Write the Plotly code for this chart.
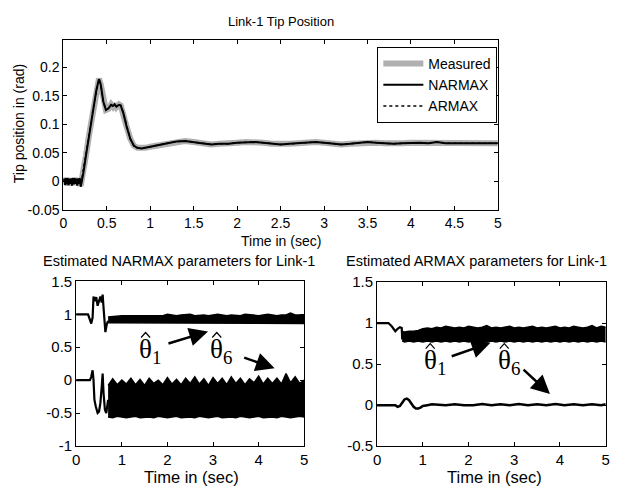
import plotly.graph_objects as go

# ---------------- Top plot data: Link-1 tip position ----------------
t_top = [0.00, 0.01, 0.02, 0.03, 0.04, 0.05, 0.06, 0.07, 0.08, 0.09, 0.10, 0.11, 0.12,
         0.13, 0.14, 0.15, 0.16, 0.17, 0.18, 0.19, 0.20, 0.21, 0.23, 0.26, 0.30, 0.34,
         0.38, 0.41, 0.43, 0.46, 0.49, 0.52, 0.55, 0.57, 0.59, 0.61, 0.64, 0.66, 0.69,
         0.73, 0.77, 0.81, 0.85, 0.90, 0.95, 1.00, 1.10, 1.20, 1.30, 1.40, 1.50, 1.60,
         1.70, 1.80, 1.90, 2.00, 2.10, 2.20, 2.30, 2.40, 2.50, 2.60, 2.70, 2.80, 2.90,
         3.00, 3.10, 3.20, 3.30, 3.40, 3.50, 3.60, 3.70, 3.80, 3.90, 4.00, 4.10, 4.20,
         4.30, 4.40, 4.50, 4.60, 4.70, 4.80, 4.90, 5.00]
measured = [0.000, 0.006, -0.005, 0.007, -0.004, 0.005, -0.007, 0.004, -0.003, 0.006, -0.006,
            0.005, -0.004, 0.007, -0.005, 0.004, -0.006, 0.006, -0.003, 0.005, -0.008, 0.002,
            0.015, 0.045, 0.085, 0.125, 0.160, 0.180, 0.170, 0.140, 0.125, 0.127, 0.135,
            0.131, 0.136, 0.130, 0.135, 0.133, 0.120, 0.095, 0.075, 0.063, 0.059, 0.058,
            0.059, 0.061, 0.064, 0.067, 0.070, 0.071, 0.069, 0.066, 0.065, 0.066, 0.066,
            0.068, 0.069, 0.069, 0.068, 0.066, 0.065, 0.066, 0.067, 0.069, 0.069, 0.068,
            0.066, 0.065, 0.066, 0.067, 0.069, 0.068, 0.067, 0.066, 0.067, 0.068, 0.068,
            0.067, 0.069, 0.067, 0.067, 0.068, 0.067, 0.068, 0.067, 0.067]
narmax = [0.000, 0.005, -0.006, 0.006, -0.005, 0.006, -0.006, 0.005, -0.004, 0.005, -0.007,
          0.006, -0.005, 0.006, -0.004, 0.005, -0.007, 0.005, -0.004, 0.006, -0.009, 0.002,
          0.015, 0.045, 0.085, 0.125, 0.160, 0.179, 0.170, 0.140, 0.125, 0.128, 0.134,
          0.132, 0.135, 0.131, 0.134, 0.133, 0.120, 0.095, 0.075, 0.063, 0.059, 0.058,
          0.059, 0.061, 0.064, 0.067, 0.070, 0.071, 0.069, 0.066, 0.065, 0.066, 0.066,
          0.068, 0.069, 0.069, 0.068, 0.066, 0.065, 0.066, 0.067, 0.069, 0.069, 0.068,
          0.066, 0.065, 0.066, 0.067, 0.069, 0.068, 0.067, 0.066, 0.067, 0.068, 0.068,
          0.067, 0.069, 0.067, 0.067, 0.068, 0.067, 0.068, 0.067, 0.067]
armax = [0.000, 0.004, -0.005, 0.005, -0.004, 0.005, -0.005, 0.004, -0.004, 0.005, -0.006,
         0.005, -0.004, 0.005, -0.004, 0.004, -0.006, 0.005, -0.003, 0.005, -0.007, 0.002,
         0.015, 0.045, 0.085, 0.125, 0.160, 0.179, 0.170, 0.140, 0.125, 0.128, 0.134,
         0.132, 0.135, 0.131, 0.134, 0.133, 0.120, 0.095, 0.075, 0.063, 0.059, 0.058,
         0.059, 0.061, 0.064, 0.067, 0.070, 0.071, 0.069, 0.066, 0.065, 0.066, 0.066,
         0.068, 0.069, 0.069, 0.068, 0.066, 0.065, 0.066, 0.067, 0.069, 0.069, 0.068,
         0.066, 0.065, 0.066, 0.067, 0.069, 0.068, 0.067, 0.066, 0.067, 0.068, 0.068,
         0.067, 0.069, 0.067, 0.067, 0.068, 0.067, 0.068, 0.067, 0.067]

# ---------------- Bottom-left: NARMAX parameters ----------------
t_band = [0.7, 0.8, 0.9, 1.0, 1.1, 1.2, 1.3, 1.4, 1.5, 1.6, 1.7, 1.8, 1.9, 2.0, 2.1, 2.2,
          2.3, 2.4, 2.5, 2.6, 2.7, 2.8, 2.9, 3.0, 3.1, 3.2, 3.3, 3.4, 3.5, 3.6, 3.7, 3.8,
          3.9, 4.0, 4.1, 4.2, 4.3, 4.4, 4.5, 4.6, 4.7, 4.8, 4.9, 5.0]
n_th1_t = [0.0, 0.26, 0.30, 0.33, 0.36, 0.38, 0.41, 0.44, 0.47, 0.50, 0.53, 0.56, 0.58,
           0.60, 0.62, 0.64, 0.67, 0.70]
n_th1_v = [1.0, 1.0, 0.92, 0.86, 0.95, 1.27, 1.20, 1.26, 1.13, 1.20, 1.27, 1.18, 1.30,
           1.10, 0.80, 0.73, 0.85, 0.90]
n_th1_up = [0.96, 0.97, 0.97, 0.98, 0.98, 0.98, 0.99, 0.98, 0.99, 0.98, 0.99, 0.99, 0.98,
            1.00, 0.99, 0.98, 0.99, 0.99, 1.00, 0.98, 0.99, 0.99, 0.98, 0.99, 1.00, 0.99,
            0.98, 0.99, 0.99, 0.98, 1.00, 0.99, 0.99, 0.98, 0.99, 1.00, 0.99, 0.98, 0.99,
            0.99, 1.02, 0.99, 0.99, 0.99]
n_th1_lo = [0.87, 0.87, 0.86, 0.87, 0.86, 0.86, 0.87, 0.86, 0.87, 0.86, 0.86, 0.87, 0.86,
            0.86, 0.87, 0.86, 0.86, 0.87, 0.86, 0.86, 0.87, 0.86, 0.86, 0.87, 0.86, 0.86,
            0.87, 0.86, 0.86, 0.87, 0.86, 0.86, 0.87, 0.86, 0.86, 0.87, 0.86, 0.86, 0.87,
            0.86, 0.86, 0.87, 0.86, 0.86]
n_th6_t = [0.0, 0.30, 0.33, 0.36, 0.38, 0.40, 0.43, 0.47, 0.50, 0.53, 0.56, 0.58, 0.60,
           0.63, 0.66, 0.70]
n_th6_v = [0.0, 0.0, 0.05, 0.15, 0.0, -0.30, -0.40, -0.50, -0.48, -0.35, -0.10, 0.10,
           -0.20, -0.45, -0.50, -0.30]
n_th6_up = [-0.08, 0.02, -0.07, 0.00, -0.06, 0.03, -0.07, 0.01, -0.08, 0.03, -0.05, 0.00,
            -0.07, 0.04, -0.06, 0.01, -0.07, 0.03, -0.05, 0.05, -0.06, 0.02, -0.08, 0.04,
            -0.05, 0.03, -0.07, 0.05, -0.05, 0.03, -0.07, 0.02, -0.04, 0.06, -0.06, 0.03,
            -0.05, 0.03, -0.06, 0.10, -0.04, 0.05, -0.05, 0.00]
n_th6_lo = [-0.56, -0.57, -0.55, -0.56, -0.57, -0.56, -0.55, -0.57, -0.56, -0.56, -0.57,
            -0.55, -0.56, -0.57, -0.56, -0.55, -0.57, -0.56, -0.56, -0.57, -0.55, -0.56,
            -0.57, -0.56, -0.55, -0.57, -0.56, -0.56, -0.57, -0.55, -0.56, -0.57, -0.56,
            -0.55, -0.57, -0.56, -0.56, -0.57, -0.55, -0.56, -0.57, -0.56, -0.55, -0.56]

# ---------------- Bottom-right: ARMAX parameters ----------------
t_band_a = [0.55, 0.6, 0.7, 0.8, 0.9, 1.0, 1.1, 1.2, 1.3, 1.4, 1.5, 1.6, 1.7, 1.8, 1.9,
            2.0, 2.1, 2.2, 2.3, 2.4, 2.5, 2.6, 2.7, 2.8, 2.9, 3.0, 3.1, 3.2, 3.3, 3.4,
            3.5, 3.6, 3.7, 3.8, 3.9, 4.0, 4.1, 4.2, 4.3, 4.4, 4.5, 4.6, 4.7, 4.8, 4.9, 5.0]
a_th1_t = [0.0, 0.25, 0.32, 0.40, 0.45, 0.50, 0.54, 0.55]
a_th1_v = [1.0, 1.0, 0.96, 0.90, 0.93, 0.95, 0.94, 0.80]
a_th1_up = [0.90, 0.89, 0.90, 0.90, 0.91, 0.93, 0.94, 0.93, 0.95, 0.94, 0.96, 0.95, 0.94,
            0.95, 0.94, 0.96, 0.95, 0.94, 0.95, 0.97, 0.94, 0.95, 0.94, 0.95, 0.96, 0.94,
            0.95, 0.94, 0.95, 0.96, 0.94, 0.95, 0.94, 0.95, 0.96, 0.94, 0.95, 0.94, 0.96,
            0.95, 0.94, 0.95, 0.97, 0.94, 0.96, 0.95]
a_th1_lo = [0.78, 0.77, 0.78, 0.77, 0.78, 0.77, 0.78, 0.77, 0.78, 0.77, 0.78, 0.77, 0.78,
            0.77, 0.78, 0.77, 0.78, 0.77, 0.78, 0.77, 0.78, 0.77, 0.78, 0.77, 0.78, 0.77,
            0.78, 0.77, 0.78, 0.77, 0.78, 0.77, 0.78, 0.77, 0.78, 0.77, 0.78, 0.77, 0.78,
            0.77, 0.78, 0.77, 0.78, 0.77, 0.78, 0.77]
a_th6_t = [0.0, 0.40, 0.45, 0.50, 0.55, 0.60, 0.65, 0.70, 0.75, 0.80, 0.85, 0.90, 0.95,
           1.0, 1.1, 1.2, 1.5, 1.7, 1.9, 2.1, 2.3, 2.5, 2.7, 2.9, 3.1, 3.3, 3.5, 3.7,
           3.9, 4.1, 4.3, 4.5, 4.7, 4.9, 5.0]
a_th6_v = [0.0, 0.0, -0.02, -0.01, 0.03, 0.07, 0.08, 0.06, 0.02, -0.02, -0.04, -0.04,
           -0.03, -0.01, 0.0, 0.01, 0.0, 0.01, 0.0, 0.0, 0.015, 0.0, 0.01, 0.0, 0.015, 0.0,
           0.01, 0.0, 0.015, 0.0, 0.01, 0.0, 0.01, 0.0, 0.01]

top_yticks = [-0.05, 0, 0.05, 0.1, 0.15, 0.2]
top_ylabels = ["-0.05", "0", "0.05", "0.1", "0.15", "0.2"]
top_xticks = [0, 0.5, 1, 1.5, 2, 2.5, 3, 3.5, 4, 4.5, 5]
bot_xticks = [0, 1, 2, 3, 4, 5]
bl_yticks = [-1, -0.5, 0, 0.5, 1, 1.5]
br_yticks = [-0.5, 0, 0.5, 1, 1.5]

W, H = 636, 501
OFF = 8  # default page margin of the HTML body
FONT = "Liberation Sans, Arial, sans-serif"
fig = go.Figure()

# Top plot
fig.add_trace(go.Scatter(x=t_top, y=measured, name="Measured", mode="lines",
                         line=dict(color="#b0b0b0", width=6), xaxis="x", yaxis="y"))
fig.add_trace(go.Scatter(x=t_top, y=narmax, name="NARMAX", mode="lines",
                         line=dict(color="black", width=2), xaxis="x", yaxis="y"))
fig.add_trace(go.Scatter(x=t_top, y=armax, name="ARMAX", mode="lines",
                         line=dict(color="black", width=1.5, dash="dot"), xaxis="x", yaxis="y"))


def band(tb, lo, up, ax, ay):
    fig.add_trace(go.Scatter(x=tb, y=lo, mode="lines", line=dict(color="black", width=1.5),
                             showlegend=False, xaxis=ax, yaxis=ay))
    fig.add_trace(go.Scatter(x=tb, y=up, mode="lines", line=dict(color="black", width=1.5),
                             fill="tonexty", fillcolor="black",
                             showlegend=False, xaxis=ax, yaxis=ay))


def line(tt, vv, ax, ay, w=2.2):
    fig.add_trace(go.Scatter(x=tt, y=vv, mode="lines", line=dict(color="black", width=w),
                             showlegend=False, xaxis=ax, yaxis=ay))


line(n_th1_t, n_th1_v, "x2", "y2")
band(t_band, n_th1_lo, n_th1_up, "x2", "y2")
line(n_th6_t, n_th6_v, "x2", "y2")
band(t_band, n_th6_lo, n_th6_up, "x2", "y2")

line(a_th1_t, a_th1_v, "x3", "y3")
band(t_band_a, a_th1_lo, a_th1_up, "x3", "y3")
line(a_th6_t, a_th6_v, "x3", "y3", w=2.5)


def px(x):
    return (x - OFF) / W


def py(y):
    return 1 - (y - OFF) / H


axis_common = dict(showline=True, linecolor="black", linewidth=1, mirror="ticks",
                   ticks="inside", ticklen=4, tickcolor="black", showgrid=False,
                   zeroline=False, tickfont=dict(family=FONT, size=14, color="black"))
bfont = dict(family=FONT, size=15, color="black")

fig.update_layout(
    width=W, height=H, margin=dict(l=0, r=0, t=0, b=0),
    paper_bgcolor="white", plot_bgcolor="white",
    font=dict(family=FONT, color="black"),
    xaxis=dict(axis_common, domain=[px(60), px(500)], range=[0, 5], tickvals=top_xticks,
               ticktext=["0", "0.5", "1", "1.5", "2", "2.5", "3", "3.5", "4", "4.5", "5"],
               anchor="y"),
    yaxis=dict(axis_common, domain=[py(208), py(32)], range=[-0.05, 0.247],
               tickvals=top_yticks, ticktext=top_ylabels, anchor="x"),
    xaxis2=dict(axis_common, domain=[px(73), px(304)], range=[0, 5], tickvals=bot_xticks,
                anchor="y2", tickfont=bfont),
    yaxis2=dict(axis_common, domain=[py(452), py(281.7)], range=[-1, 1.5],
                tickvals=bl_yticks, ticktext=["-1", "-0.5", "0", "0.5", "1", "1.5"],
                anchor="x2", tickfont=bfont),
    xaxis3=dict(axis_common, domain=[px(377.7), px(609.3)], range=[0, 5], tickvals=bot_xticks,
                anchor="y3", tickfont=bfont),
    yaxis3=dict(axis_common, domain=[py(452.3), py(282.3)], range=[-0.5, 1.5],
                tickvals=br_yticks, ticktext=["-0.5", "0", "0.5", "1", "1.5"],
                anchor="x3", tickfont=bfont),
    legend=dict(x=px(378), y=py(39), xanchor="left", yanchor="top",
                bordercolor="black", borderwidth=1, bgcolor="white",
                font=dict(family=FONT, size=14, color="black"),
                traceorder="normal", tracegroupgap=0, itemwidth=40),
    showlegend=True,
)


def txt(x, y, s, size, angle=0):
    fig.add_annotation(x=px(x), y=py(y), xref="paper", yref="paper", text=s, showarrow=False,
                       xanchor="center", yanchor="middle", textangle=angle,
                       font=dict(family=FONT, size=size, color="black"))


txt(280, 13, "Link-1 Tip Position", 13)
txt(280, 240, "Time in (sec)", 14)
txt(15, 118, "Tip position in (rad)", 14, angle=-90)
txt(177, 261, "Estimated NARMAX parameters for Link-1", 14.5)
txt(478, 261, "Estimated ARMAX parameters for Link-1", 14.5)
txt(190, 484, "Time in (sec)", 16.5)
txt(497, 484, "Time in (sec)", 16.5)

SERIF = "Liberation Serif, Times New Roman, serif"


def theta(x, y, sub, ax, ay):
    fig.add_annotation(x=x, y=y, xref=ax, yref=ay, showarrow=False,
                       text="θ<sub>%s</sub>" % sub, xanchor="center", yanchor="middle",
                       font=dict(family=SERIF, size=27, color="black"))
    # circumflex (hat) over the theta, sized in pixels around the label anchor
    fig.add_shape(type="path", xref=ax, yref=ay, xsizemode="pixel", ysizemode="pixel",
                  xanchor=x, yanchor=y, path="M -9 13 L -4.5 18 L 0 13",
                  line=dict(color="black", width=1.2))


def arrow(x0, y0, x1, y1, ax, ay):
    fig.add_annotation(x=x1, y=y1, ax=x0, ay=y0, xref=ax, yref=ay, axref=ax, ayref=ay,
                       text="", showarrow=True, arrowhead=2, arrowsize=1.5, arrowwidth=2.5,
                       arrowcolor="black")


theta(1.62, 0.45, "1", "x2", "y2")
arrow(1.99, 0.55, 2.89, 0.74, "x2", "y2")
theta(3.18, 0.45, "6", "x2", "y2")
arrow(3.65, 0.35, 4.35, 0.18, "x2", "y2")

theta(1.26, 0.53, "1", "x3", "y3")
arrow(1.6, 0.59, 2.48, 0.76, "x3", "y3")
theta(2.88, 0.53, "6", "x3", "y3")
arrow(3.17, 0.45, 3.78, 0.135, "x3", "y3")

fig.write_html("out.html")
